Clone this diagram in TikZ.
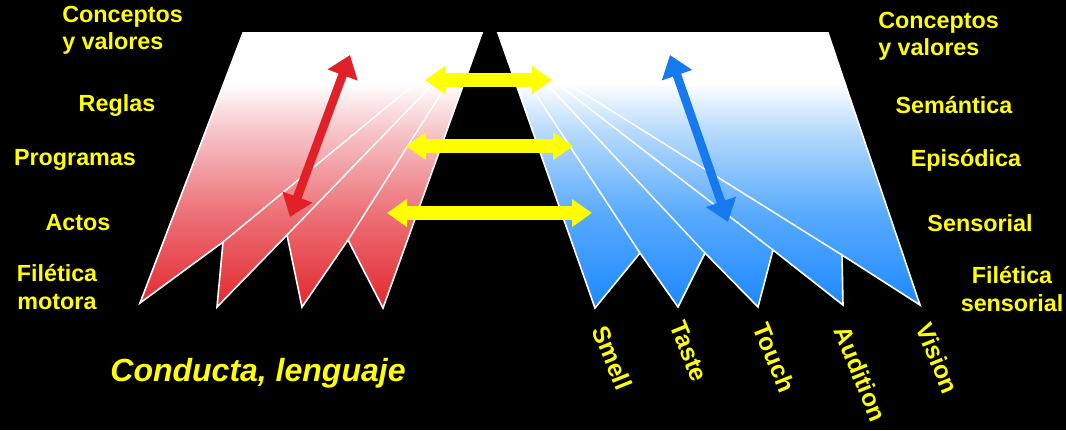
\documentclass[tikz,border=0pt]{standalone}
\usepackage{fontspec}
\setmainfont{Liberation Sans}
\usetikzlibrary{arrows.meta}
\definecolor{labyellow}{RGB}{255,255,0}
\definecolor{motorred}{RGB}{226,32,40}
\definecolor{foldred}{RGB}{226,40,46}
\definecolor{foldrose}{RGB}{236,112,118}
\definecolor{foldpink}{RGB}{247,196,200}
\definecolor{sensblue}{RGB}{22,122,238}
\definecolor{foldblue}{RGB}{28,136,255}
\definecolor{foldazure}{RGB}{88,170,252}
\definecolor{foldsky}{RGB}{182,218,252}
% the path box spans 25bp (bottom) to 75bp (top)
\pgfdeclareverticalshading{redfade}{100bp}{color(0bp)=(foldred); color(25bp)=(foldred); color(42bp)=(foldrose); color(57bp)=(foldpink); color(66bp)=(white); color(100bp)=(white)}
\pgfdeclareverticalshading{bluefade}{100bp}{color(0bp)=(foldblue); color(25bp)=(foldblue); color(42bp)=(foldazure); color(57bp)=(foldsky); color(66bp)=(white); color(100bp)=(white)}

\begin{document}
\begin{tikzpicture}[
  x=0.75pt,y=-0.75pt,
  fold/.style={draw=white,line width=1.2pt,line join=miter},
  crease/.style={draw=white,line width=1.1pt},
  lab/.style={text=labyellow,inner sep=0pt,font=\bfseries\fontsize{17.5}{20.5}\selectfont},
  sense/.style={lab,rotate=-68,anchor=west,font=\bfseries\fontsize{18.5}{21}\selectfont},
  link/.style={{Triangle[width=20pt,length=15pt]}-{Triangle[width=20pt,length=15pt]},
               draw=labyellow,line width=10pt},
  memarrow/.style={{Triangle[width=23pt,length=16pt]}-{Triangle[width=23pt,length=16pt]},
                   line width=6.5pt}
]
\fill[black] (0,0) rectangle (1066,430);
\useasboundingbox (0,0) rectangle (1066,430);

% motor side
\path[fold,shading=redfade] (243,33) -- (482,33) -- (383,308) -- (348,240) -- (302,307)
  -- (287,235) -- (217,307) -- (223,242) -- (140,303) -- cycle;
\draw[crease] (223,242) -- (423,77);
\draw[crease] (287,235) -- (432,85);
\draw[crease] (348,240) -- (442,92);

% sensory side
\path[fold,shading=bluefade] (498,33) -- (828,33) -- (920,305) -- (842,255) -- (843,305)
  -- (773,250) -- (758,307) -- (705,253) -- (678,307) -- (640,253) -- (595,308) -- cycle;
\draw[crease] (640,253) -- (533,90);
\draw[crease] (705,253) -- (544,81);
\draw[crease] (773,250) -- (550,78);
\draw[crease] (842,255) -- (556,76);

% hierarchy arrows
\coordinate (mtop) at (350,55);
\coordinate (mbot) at (290,217);
\coordinate (stop) at (670,55);
\coordinate (sbot) at (728,222);
\draw[memarrow,draw=motorred] (mtop) -- (mbot);
\draw[memarrow,draw=sensblue] (stop) -- (sbot);

% links between both sides
\coordinate (l1) at (425,80);  \coordinate (r1) at (552,80);
\coordinate (l2) at (406,146); \coordinate (r2) at (573,146);
\coordinate (l3) at (387,213); \coordinate (r3) at (592,213);
\draw[link] (l1) -- (r1);
\draw[link] (l2) -- (r2);
\draw[link] (l3) -- (r3);

% levels, motor
\node[lab,align=left,anchor=west] (mconc) at (62,30) {Conceptos\\y valores};
\node[lab] (reglas) at (117,106) {Reglas};
\node[lab] (progr) at (75,160) {Programas};
\node[lab] (actos) at (78,223) {Actos};
\node[lab,align=center] (mfil) at (57,287) {Filética\\motora};

% levels, sensory
\node[lab,align=left,anchor=west] (sconc) at (878,36) {Conceptos\\y valores};
\node[lab] (seman) at (954,105) {Semántica};
\node[lab] (episo) at (966,160) {Episódica};
\node[lab] (senso) at (980,223) {Sensorial};
\node[lab,align=center] (sfil) at (1012,289) {Filética\\sensorial};

% senses
\node[sense] (smell) at (600,327) {Smell};
\node[sense] (taste) at (677,322) {Taste};
\node[sense] (touch) at (761,324) {Touch};
\node[sense] (audit) at (842,327) {Audition};
\node[sense] (vision) at (924,324) {Vision};

\node[lab,font=\bfseries\itshape\fontsize{24}{28}\selectfont] (conducta) at (258,373) {Conducta, lenguaje};
\end{tikzpicture}
\end{document}
